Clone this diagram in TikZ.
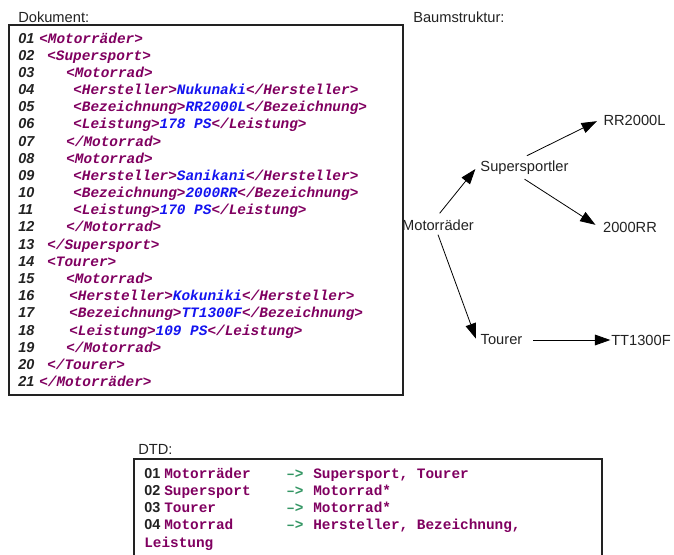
\documentclass[tikz,border=0pt]{standalone}
\usepackage{fontspec}
\setmainfont{Liberation Sans}
\setmonofont{Liberation Mono}
\usetikzlibrary{arrows.meta}
\definecolor{XMtag}{RGB}{128,0,96}
\definecolor{XMval}{RGB}{20,20,240}
\definecolor{XMarrow}{RGB}{52,150,100}
\definecolor{XMdark}{RGB}{34,34,34}
\newcommand{\tg}[1]{{\color{XMtag}#1}}
\newcommand{\vl}[1]{{\color{XMval}#1}}
\tikzset{
  caption/.style={anchor=west,inner sep=0pt,font=\fontsize{11}{13}\selectfont,text=XMdark},
  lnum/.style={anchor=west,inner sep=0pt,text height=8pt,text depth=2pt,
               font=\fontsize{10.8}{13}\selectfont\bfseries\itshape,text=XMdark},
  code/.style={anchor=west,inner sep=0pt,text height=8pt,text depth=2pt,
               font=\fontsize{10.8}{13}\selectfont\ttfamily\bfseries\itshape},
  dnum/.style={lnum,font=\fontsize{10.8}{13}\selectfont\bfseries},
  dcode/.style={code,font=\fontsize{10.8}{13}\selectfont\ttfamily\bfseries,text=XMtag},
  tnode/.style={inner sep=3pt,font=\fontsize{11}{13}\selectfont,text=XMdark},
  tarr/.style={-{Triangle[length=11.5pt,width=8pt]},line width=0.6pt,draw=black},
  box/.style={draw=XMdark,line width=0.8pt},
}

\begin{document}
\begin{tikzpicture}[x=0.75pt,y=-0.75pt]
  \useasboundingbox (0,0) rectangle (674,554);

  % document
  \node[caption] (doccap) at (18,17) {Dokument:};
  \draw[box] (9,25) rectangle (403,395);
  \foreach \x/\txt [count=\i] in {
      39/{\tg{<Motorräder>}},
      47/{\tg{<Supersport>}},
      66/{\tg{<Motorrad>}},
      73/{\tg{<Hersteller>}\vl{Nukunaki}\tg{</Hersteller>}},
      73/{\tg{<Bezeichnung>}\vl{RR2000L}\tg{</Bezeichnung>}},
      73/{\tg{<Leistung>}\vl{178 PS}\tg{</Leistung>}},
      66/{\tg{</Motorrad>}},
      66/{\tg{<Motorrad>}},
      73/{\tg{<Hersteller>}\vl{Sanikani}\tg{</Hersteller>}},
      73/{\tg{<Bezeichnung>}\vl{2000RR}\tg{</Bezeichnung>}},
      73/{\tg{<Leistung>}\vl{170 PS}\tg{</Leistung>}},
      66/{\tg{</Motorrad>}},
      47/{\tg{</Supersport>}},
      47/{\tg{<Tourer>}},
      66/{\tg{<Motorrad>}},
      69/{\tg{<Hersteller>}\vl{Kokuniki}\tg{</Hersteller>}},
      69/{\tg{<Bezeichnung>}\vl{TT1300F}\tg{</Bezeichnung>}},
      69/{\tg{<Leistung>}\vl{109 PS}\tg{</Leistung>}},
      66/{\tg{</Motorrad>}},
      47/{\tg{</Tourer>}},
      39/{\tg{</Motorräder>}}}{
    \node[lnum] (n\i) at (18,{39+17.18*(\i-1)}) {\ifnum\i<10 0\fi\i};
    \node[code] (c\i) at (\x,{39+17.18*(\i-1)}) {\txt};
  }

  % tree
  \node[caption] (treecap) at (413,17) {Baumstruktur:};
  \node[tnode] (mot) at (438,225) {Motorräder};
  \node[tnode] (sup) at (524.5,168) {Supersportler};
  \node[tnode] (rr) at (634.5,120) {RR2000L};
  \node[tnode] (rrb) at (630,227) {2000RR};
  \node[tnode] (tour) at (501.5,340) {Tourer};
  \node[tnode] (tt) at (641,340) {TT1300F};
  \draw[tarr,shorten <=2pt,shorten >=1pt] (mot.north) -- (sup.west);
  \draw[tarr,shorten <=2pt,shorten >=2pt] (sup.north) -- (rr.west);
  \draw[tarr,shorten >=3pt] (sup.south) -- (rrb.west);
  \draw[tarr,shorten >=1pt] (mot.south) -- (tour.west);
  \draw[tarr,shorten <=5pt,shorten >=-2.5pt] (tour.east) -- (tt.west);

  % DTD
  \node[caption] (dtdcap) at (138,449) {DTD:};
  \draw[box] (134,556) -- (134,459) -- (602,459) -- (602,556);
  \foreach \lft/\rgt [count=\i] in {Motorräder/{Supersport, Tourer},
      Supersport/{Motorrad*}, Tourer/{Motorrad*},
      Motorrad/{Hersteller, Bezeichnung,}}{
    \node[dnum] (d\i) at (144,{474+17.2*(\i-1)}) {0\i};
    \node[dcode] (dl\i) at (164,{474+17.2*(\i-1)}) {\lft};
    \node[dcode,text=XMarrow] (da\i) at (286,{474+17.2*(\i-1)}) {–>};
    \node[dcode] (dr\i) at (313,{474+17.2*(\i-1)}) {\rgt};
  }
  \node[dcode] (dl5) at (144,543) {Leistung};
\end{tikzpicture}
\end{document}
